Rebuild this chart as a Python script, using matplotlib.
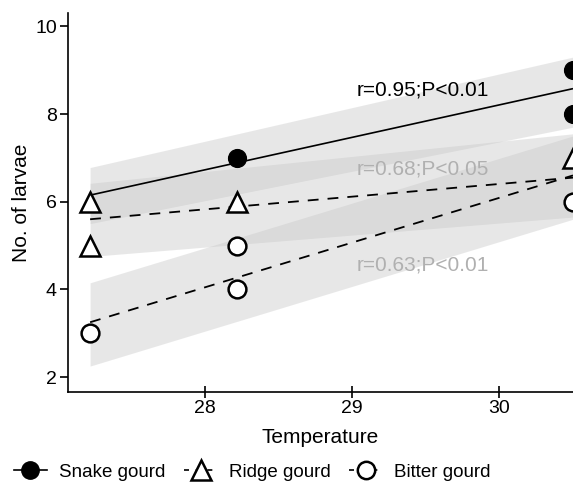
import numpy as np
import matplotlib
matplotlib.use("Agg")
import matplotlib.pyplot as plt
from matplotlib.lines import Line2D

plt.rcParams['font.family'] = ['Liberation Sans', 'DejaVu Sans']

# Datos
temp_snake = [28.22, 30.5, 30.5]
larvae_snake = [7, 9, 8]
temp_ridge = [27.22, 27.22, 28.22, 30.5]
larvae_ridge = [6, 5, 6, 7]
temp_bitter = [27.22, 28.22, 28.22, 30.5]
larvae_bitter = [3, 5, 4, 6]

# Rectas de regresión (extremos en x = 27.22 y 30.5)
fit_x = [27.22, 30.5]
fit_snake = [6.15, 8.58]
fit_ridge = [5.6, 6.55]
fit_bitter = [3.25, 6.6]

# Bandas de confianza (inferior, superior) en los extremos
band_snake_lo = [5.5, 7.7]
band_snake_hi = [6.78, 9.3]
band_ridge_lo = [4.75, 5.65]
band_ridge_hi = [6.42, 7.55]
band_bitter_lo = [2.25, 5.6]
band_bitter_hi = [4.15, 7.5]

labels_r = ["r=0.95;P<0.01", "r=0.68;P<0.05", "r=0.63;P<0.01"]

fig = plt.figure(figsize=(5.73, 4.93), dpi=100)
ax = fig.add_axes([0.1187, 0.205, 0.8813, 0.769])

band_kw = dict(color='#c8c8c8', alpha=0.42, linewidth=0)
ax.fill_between(fit_x, band_snake_lo, band_snake_hi, **band_kw)
ax.fill_between(fit_x, band_ridge_lo, band_ridge_hi, **band_kw)
ax.fill_between(fit_x, band_bitter_lo, band_bitter_hi, **band_kw)

ax.plot(fit_x, fit_snake, color='black', lw=1.2, solid_capstyle='butt')
ax.plot(fit_x, fit_ridge, color='black', lw=1.3, dashes=(6, 5))
ax.plot(fit_x, fit_bitter, color='black', lw=1.3, dashes=(6, 5))

ax.plot(temp_snake, larvae_snake, 'o', ms=12.8, color='black', zorder=5)
ax.plot(temp_ridge, larvae_ridge, '^', ms=14, mfc='white', mec='black', mew=1.8, zorder=5)
ax.plot(temp_bitter, larvae_bitter, 'o', ms=12.8, mfc='white', mec='black', mew=1.8, zorder=5)

ax.text(29.03, 8.56, labels_r[0], fontsize=15, color='black', va='center')
ax.text(29.03, 6.75, labels_r[1], fontsize=15, color='#b0b0b0', va='center')
ax.text(29.03, 4.56, labels_r[2], fontsize=15, color='#b0b0b0', va='center')

ax.set_xlim(27.07, 30.5)
ax.set_ylim(1.66, 10.31)
ax.set_xticks([28, 29, 30])
ax.set_yticks([2, 4, 6, 8, 10])
ax.spines['top'].set_visible(False)
ax.spines['right'].set_visible(False)
ax.spines['left'].set_linewidth(1.2)
ax.spines['bottom'].set_linewidth(1.2)
ax.tick_params(axis='x', direction='inout', length=8, width=1.2, labelsize=14, pad=2)
ax.tick_params(axis='y', direction='out', length=6, width=1.2, labelsize=14, pad=2)
ax.set_xlabel("Temperature", fontsize=15, labelpad=8)
ax.set_ylabel("No. of larvae", fontsize=15, labelpad=3)

handles = [
    Line2D([], [], color='black', lw=1.2, marker='o', ms=12.5),
    Line2D([], [], color='black', lw=1.2, dashes=(3, 4), marker='^', ms=14, mfc='white', mec='black', mew=1.8),
    Line2D([], [], color='black', lw=1.2, dashes=(3, 4), marker='o', ms=12.5, mfc='white', mec='black', mew=1.8),
]
fig.legend(handles, ["Snake gourd", "Ridge gourd", "Bitter gourd"], loc='lower center',
           bbox_to_anchor=(0.44, -0.01), ncol=3, frameon=False, fontsize=13.5,
           handlelength=1.8, handletextpad=0.6, columnspacing=1.0)

fig.savefig("out.png", dpi=100)
plt.close(fig)
